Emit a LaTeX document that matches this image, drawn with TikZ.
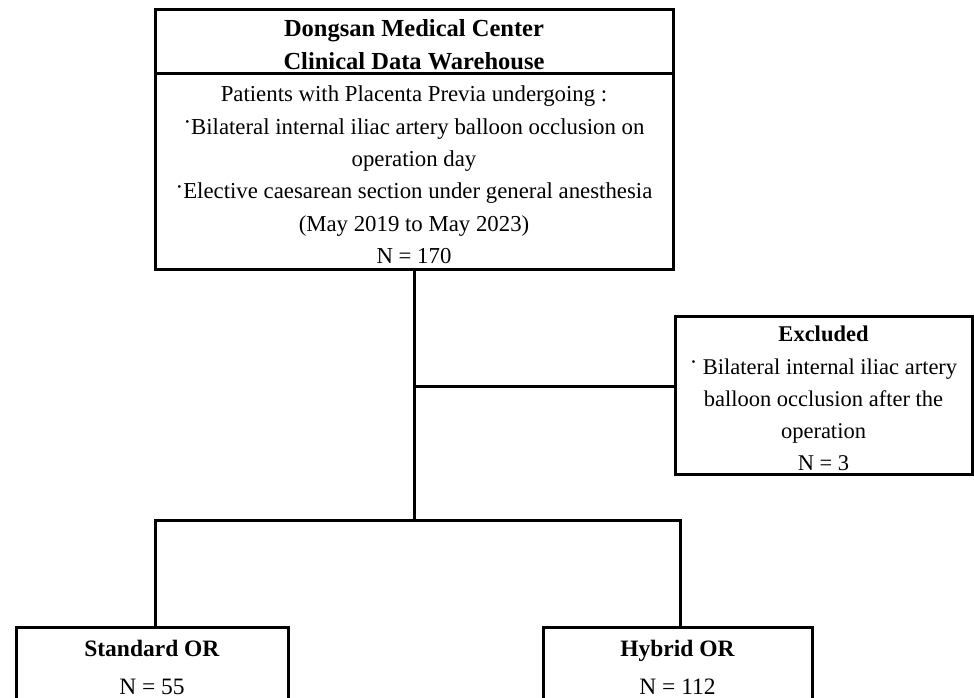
\documentclass[tikz,border=0pt]{standalone}
\usepackage{fontspec}
\setmainfont{Liberation Serif}
\newcommand{\bdot}{\raisebox{0.45ex}{·}}
\begin{document}
\begin{tikzpicture}[x=1pt,y=-1pt,
  line width=3pt,
  box/.style={draw, line width=3pt, rectangle, inner sep=0pt, align=center,
    font=\fontsize{22.8}{32.4}\selectfont},
  txt/.style={inner sep=0pt, align=center, font=\fontsize{23.5}{38}\selectfont},
  conn/.style={line width=3pt, line cap=rect}]
\useasboundingbox (0,0) rectangle (974,698);
\clip (0,0) rectangle (974,698);
% top box
\node[box, minimum width=518pt, minimum height=64pt] (title) at (414,42) {};
\node[inner sep=0pt, align=center, font=\fontsize{24.5}{33}\selectfont\bfseries] (titlet) at (414,44.5)
  {Dongsan Medical Center\\Clinical Data Warehouse};
\node[box, minimum width=518pt, minimum height=195pt] (body) at (414,171.5) {};
\node[inner sep=0pt, align=center, font=\fontsize{22.8}{32.4}\selectfont] (bodyt) at (414,175)
  {Patients with Placenta Previa undergoing :\\
   \bdot Bilateral internal iliac artery balloon occlusion on\\
   operation day\\
   \bdot Elective caesarean section under general anesthesia\\
   (May 2019 to May 2023)\\
   N = 170};
% excluded
\node[box, minimum width=297pt, minimum height=158pt] (excl) at (823.5,395) {};
\node[inner sep=0pt, align=center, font=\fontsize{22.5}{32.2}\selectfont] (exclt) at (823.5,398.5)
  {\textbf{Excluded}\\
   \bdot{} Bilateral internal iliac artery\\
   balloon occlusion after the\\
   operation\\
   N = 3};
% bottom boxes
\node[box, minimum width=272pt, minimum height=120pt] (std) at (152,687) {};
\node[txt] (stdt) at (152,667) {\textbf{Standard OR}\\N = 55};
\node[box, minimum width=269pt, minimum height=120pt] (hyb) at (677.5,687) {};
\node[txt] (hybt) at (677.5,667) {\textbf{Hybrid OR}\\N = 112};
% connectors
\coordinate (j1) at (414,386);
\coordinate (j2) at (414,520);
\coordinate (jl) at (155,520);
\coordinate (jr) at (680,520);
\draw[conn] (body.south) -- (j2);
\draw[conn] (j1) -- (excl.west |- j1);
\draw[conn] (jl) -- (jr);
\draw[conn] (jl) -- (jl |- std.north);
\draw[conn] (jr) -- (jr |- hyb.north);
\end{tikzpicture}
\end{document}
